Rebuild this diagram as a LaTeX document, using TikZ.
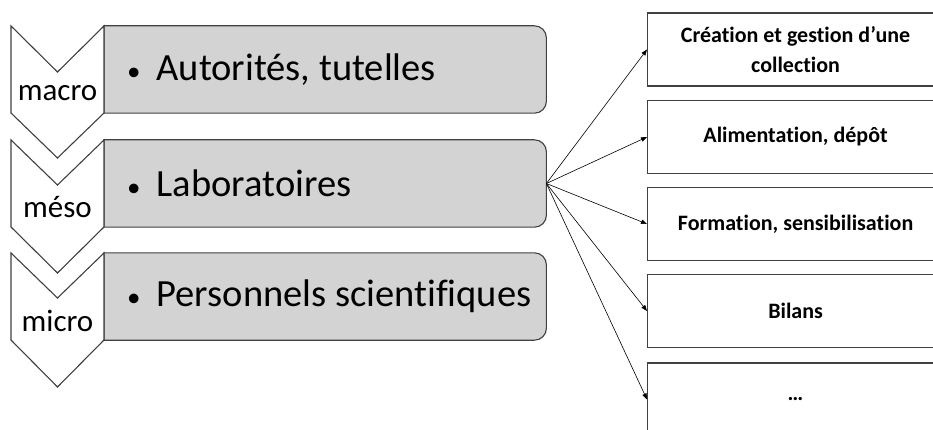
\documentclass[tikz,border=0pt]{standalone}
\usepackage{fontspec}
\setmainfont{Carlito}[Ligatures=NoCommon]
\usetikzlibrary{arrows.meta, positioning, backgrounds}
\definecolor{levelgray}{RGB}{211, 211, 211}
\definecolor{edgegray}{RGB}{64, 64, 64}
\newcommand{\levelbullet}{\hspace*{12pt}{\fontsize{27}{30}\selectfont\textbullet}\hspace{16pt}}

\begin{document}
\begin{tikzpicture}[x=1pt, y=-1pt,
    chevron/.style={draw=edgegray, fill=white, line width=1.1pt, line join=miter},
    levelname/.style={font=\fontsize{31}{36}\selectfont, inner sep=0pt},
    levelbox/.style={minimum height=87pt, text width=420pt, inner xsep=11pt, inner ysep=0pt,
      align=flush left, font=\fontsize{38.5}{44}\selectfont},
    actionbox/.style={draw=edgegray, line width=1.1pt, minimum width=296pt, minimum height=73pt,
      inner sep=0pt, align=flush center, font=\fontsize{22}{30}\selectfont\bfseries},
    link/.style={-{Triangle[length=6pt, width=4.5pt]}, line width=0.6pt}]
  \useasboundingbox (0,0) rectangle (933,430);

  % Levels: chevrons
  \draw[chevron] (11,26) -- (57.5,72) -- (104,26) -- (104,113) -- (57.5,158) -- (11,113) -- cycle;
  \draw[chevron] (11,140) -- (57.5,185) -- (104,140) -- (104,227) -- (57.5,273) -- (11,227) -- cycle;
  \draw[chevron] (11,253) -- (57.5,298) -- (104,253) -- (104,340) -- (57.5,387) -- (11,340) -- cycle;

  \node[levelname] (lmacro) at (57.5,93) {macro};
  \node[levelname] (lmeso) at (57.5,207) {méso};
  \node[levelname] (lmicro) at (57.5,321) {micro};

  % Levels: actors
  \node[levelbox, anchor=west] (macro) at (104,69.5) {\levelbullet Autorités, tutelles};
  \node[levelbox, anchor=west] (meso) at (104,183.5) {\levelbullet Laboratoires};
  \node[levelbox, anchor=west] (micro) at (104,296.5) {\levelbullet Personnels scientifiques};

  \begin{scope}[on background layer]
    \foreach \n in {macro, meso, micro} {
      \draw[draw=edgegray, fill=levelgray, line width=1.1pt]
        (\n.north west) -- ([xshift=-12pt]\n.north east)
        arc[start angle=90, end angle=0, radius=12pt] -- ([yshift=12pt]\n.south east)
        arc[start angle=0, end angle=-90, radius=12pt] -- (\n.south west) -- cycle;
    }
  \end{scope}

  % Actions
  \node[actionbox, anchor=west] (creation) at (647,49.5) {Création et gestion d’une\\collection};
  \node[actionbox, anchor=west] (depot) at (647,137) {Alimentation, dépôt};
  \node[actionbox, anchor=west] (formation) at (647,224) {Formation, sensibilisation};
  \node[actionbox, anchor=west] (bilans) at (647,311) {Bilans};
  \node[actionbox, anchor=west] (autres) at (647,399.5) {…};

  \draw[link] (meso.east) -- (creation.west);
  \draw[link] (meso.east) -- (depot.west);
  \draw[link] (meso.east) -- (formation.west);
  \draw[link] (meso.east) -- (bilans.west);
  \draw[link] (meso.east) -- (autres.west);
\end{tikzpicture}
\end{document}
